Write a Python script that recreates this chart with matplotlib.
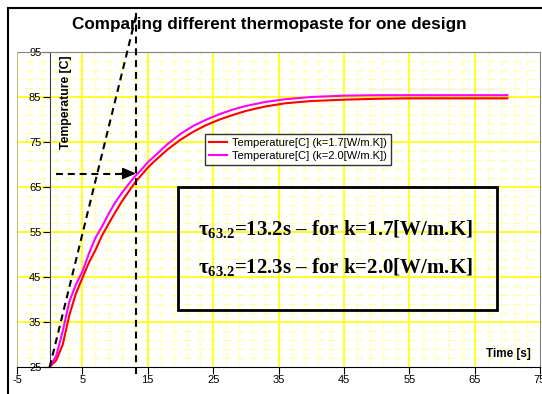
import matplotlib
matplotlib.use("Agg")
import matplotlib.pyplot as plt
from matplotlib.patches import Rectangle

plt.rcParams['font.family'] = ['Liberation Sans', 'DejaVu Sans']
plt.rcParams['mathtext.fontset'] = 'custom'
plt.rcParams['mathtext.rm'] = 'Liberation Serif:bold'
plt.rcParams['mathtext.bf'] = 'Liberation Serif:bold'
plt.rcParams['lines.scale_dashes'] = False
plt.rcParams['axes.unicode_minus'] = False

# time [s] and measured temperatures [C]
time_s = [0, 1, 2, 3, 4, 5, 6, 7, 8, 9, 10, 11, 12, 13, 14, 15, 16, 18, 20,
          22, 24, 26, 28, 30, 33, 36, 40, 45, 50, 55, 60, 70]
temp_k17 = [25, 26.5, 30, 36.5, 41.3, 44.8, 48.2, 51.0, 54.2, 56.8, 59.3, 61.7,
            63.8, 65.9, 67.6, 69.3, 70.7, 73.3, 75.5, 77.3, 78.8, 80.0, 81.0,
            81.9, 82.9, 83.6, 84.1, 84.4, 84.6, 84.7, 84.7, 84.7]
temp_k20 = [25, 27.5, 33, 39.5, 43.3, 46.2, 50.2, 53.7, 56.2, 59.0, 61.5, 63.6,
            65.5, 67.3, 68.8, 70.5, 71.8, 74.5, 76.8, 78.6, 80.0, 81.2, 82.2,
            83.0, 83.9, 84.5, 85.0, 85.3, 85.4, 85.4, 85.4, 85.4]
series_labels = ["Temperature[C] (k=1.7[W/m.K])", "Temperature[C] (k=2.0[W/m.K])"]

tau_k17 = 13.2
tau_k20 = 12.3
t_start = 25
t_tau = 68
tangent_top = 103

x_ticks = [-5, 5, 15, 25, 35, 45, 55, 65, 75]
y_ticks = [25, 35, 45, 55, 65, 75, 85, 95]

fig = plt.figure(figsize=(5.42, 3.94), dpi=100)
ax = fig.add_axes([17 / 542, 1 - 367 / 394, 523 / 542, 315 / 394])
ax.set_xlim(-5, 75)
ax.set_ylim(25, 95)

# grid: solid yellow major lines, dashed pale minor lines every 2 units
ax.set_xticks(x_ticks)
ax.set_yticks(y_ticks)
for v in range(-3, 75, 2):
    if (v + 5) % 10:
        ax.axvline(v, color='#ffffa8', lw=0.8, linestyle=(0, (4, 3)), zorder=0.5)
for v in range(27, 95, 2):
    if (v - 25) % 10:
        ax.axhline(v, color='#ffffa8', lw=0.8, linestyle=(4, (6, 3.5)), zorder=0.5)
for v in x_ticks[1:-1]:
    ax.axvline(v, color='#ffff00', lw=1.2, zorder=0.6)
for v in y_ticks[1:-1]:
    ax.axhline(v, color='#ffff00', lw=1.2, zorder=0.6)

ax.spines['left'].set_position(('data', 0))
ax.spines['left'].set_color('#404040')
ax.spines['top'].set_color('#808080')
ax.spines['right'].set_color('#808080')
ax.spines['bottom'].set_color('black')
ax.axvline(-5, color='#c0c070', lw=1.5, zorder=3)
ax.tick_params(axis='both', which='major', labelsize=8, length=5, width=0.8,
               direction='out', pad=1)

ax.plot(time_s, temp_k17, color='#ff0000', lw=1.5, label=series_labels[0], zorder=4)
ax.plot(time_s, temp_k20, color='#ff00ff', lw=1.5, label=series_labels[1], zorder=4)

# tangent at the origin and the time constant construction
ax.plot([0, tau_k17], [t_start, tangent_top], color='black', lw=1.5,
        linestyle=(0, (5, 3.5)), clip_on=False, zorder=5)
ax.plot([tau_k17, tau_k17], [23.5, tangent_top + 1], color='black', lw=1.5,
        linestyle=(0, (5, 3.5)), clip_on=False, zorder=5)
ax.plot([1, tau_k17 - 2], [t_tau, t_tau], color='black', lw=1.5,
        linestyle=(0, (5, 3.5)), zorder=5)
ax.annotate('', xy=(tau_k17, t_tau), xytext=(tau_k17 - 2.3, t_tau),
            arrowprops=dict(arrowstyle='-|>,head_length=0.8,head_width=0.35',
                            color='black', lw=1.2, shrinkA=0, shrinkB=0),
            zorder=6)

leg = ax.legend(loc='upper left', bbox_to_anchor=(0.3595, 0.7397),
                borderaxespad=0, fontsize=8, frameon=True, fancybox=False,
                handlelength=1.6, handletextpad=0.5, borderpad=0.35,
                labelspacing=0.25)
leg.get_frame().set_edgecolor('black')
leg.get_frame().set_linewidth(1.0)
leg.set_zorder(7)

ax.add_patch(Rectangle((0.308, 0.181), 0.61, 0.39, transform=ax.transAxes,
                       fill=False, edgecolor='black', lw=2, zorder=6))
ax.text(0.346, 0.435,
        "\u03c4" + r"$_{63.2}$" + f"={tau_k17}s \u2013 for k=1.7[W/m.K]",
        transform=ax.transAxes, fontsize=15, fontweight='bold',
        family='Liberation Serif', va='center', ha='left', zorder=7)
ax.text(0.346, 0.314,
        "\u03c4" + r"$_{63.2}$" + f"={tau_k20}s \u2013 for k=2.0[W/m.K]",
        transform=ax.transAxes, fontsize=15, fontweight='bold',
        family='Liberation Serif', va='center', ha='left', zorder=7)

ax.text(2.5, 94.2, "Temperature [C]", rotation=90, fontsize=8.8,
        fontweight='bold', va='top', ha='center', zorder=7)
ax.text(73.6, 28.0, "Time [s]", fontsize=8.5, fontweight='bold',
        va='center', ha='right', zorder=7)

fig.text(269 / 542, 1 - 25 / 394, "Comparing different thermopaste for one design",
         fontsize=12.3, fontweight='bold', ha='center', va='center')

fig.patches.append(Rectangle((8 / 542, -0.1), 1.2, 1.1 - 8 / 394,
                             transform=fig.transFigure, fill=False,
                             edgecolor='black', lw=1.5))

fig.savefig("out.png", dpi=100)
